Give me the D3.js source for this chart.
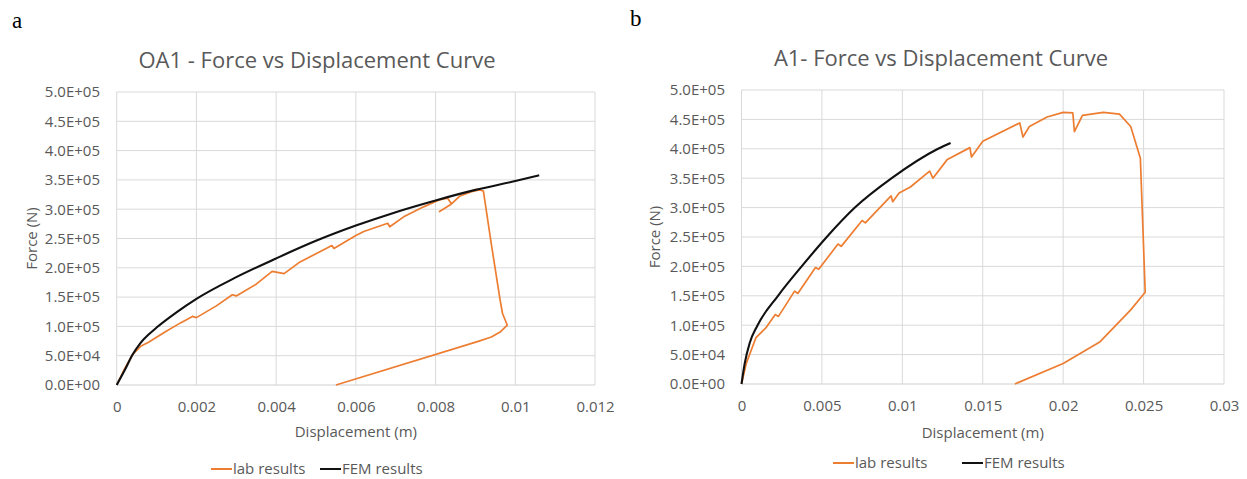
<!DOCTYPE html>
<html><head><meta charset="utf-8">
<script src="https://cdn.jsdelivr.net/npm/d3@7"></script>
<style>body{margin:0;background:#fff}svg{display:block}</style>
</head><body>
<svg id="c" width="1247" height="479"></svg>
<script>
// ---------- data ----------
const yTicks = [0,50000,100000,150000,200000,250000,300000,350000,400000,450000,500000];
const xTicksA = [0,0.002,0.004,0.006,0.008,0.01,0.012];
const xTicksB = [0,0.005,0.01,0.015,0.02,0.025,0.03];
const seriesNames = ["lab results","FEM results"];

// OA1 lab results
const labA_x = [0,0.0002,0.0004,0.0006,0.0008,0.0012,0.0016,0.0019,0.0020,0.0025,0.0029,0.0030,0.0035,0.0039,0.0042,0.0046,0.0054,0.00545,0.0060,0.0062,0.0068,0.00685,0.0072,0.0077,0.0081,0.0083,0.0084,0.0081,0.0084,0.0086,0.0089,0.0091,0.0092,0.0094,0.00962,0.00968,0.0098,0.00963,0.0094,0.00905,0.0055];
const labA_y = [0,28000,52000,66000,73000,90000,106000,117000,115000,135000,154000,152000,172000,194000,190000,210000,238000,233000,255000,262000,276000,270000,287000,304000,316000,319000,309000,296000,309000,322000,330000,333000,331000,240000,145000,122000,102000,91000,82000,74000,0];
// OA1 FEM results
const femA_x = [0,0.0002,0.0004,0.0006,0.0008,0.001,0.0015,0.002,0.003,0.004,0.005,0.006,0.007,0.008,0.009,0.01,0.0106];
const femA_y = [0,25000,52000,72000,86000,98000,124000,147000,184000,216000,246000,272000,295000,315000,333000,348000,358000];

// A1 lab results
const labB_x = [0,0.0003,0.0009,0.0015,0.0021,0.0023,0.0033,0.0035,0.0046,0.0048,0.0060,0.0062,0.0075,0.0077,0.0093,0.0094,0.0098,0.0105,0.0117,0.0119,0.0128,0.0142,0.0143,0.0150,0.0173,0.0175,0.0179,0.0190,0.0200,0.0206,0.0207,0.0212,0.0225,0.0235,0.0242,0.0248,0.0251,0.0242,0.0223,0.0200,0.0170];
const labB_y = [0,35000,79000,95000,118000,115000,158000,154000,198000,195000,238000,234000,278000,274000,320000,310000,325000,335000,362000,350000,382000,402000,386000,413000,444000,420000,438000,454000,462000,461000,429000,457000,462000,459000,438000,384000,156000,126000,72000,35000,0];
// A1 FEM results
const femB_x = [0,0.0002,0.0005,0.001,0.00227,0.00374,0.0053,0.00705,0.00934,0.01222,0.013];
const femB_y = [0,35000,69000,100000,150000,200000,250000,300000,350000,400000,410000];

// ---------- drawing ----------
const svg = d3.select("#c");
const txt = "#595959", grid = "#d9d9d9", orange = "#ED7D31", black = "#111";
const font = "'Open Sans', sans-serif";
const small = "15px";

function fmtY(v){
  const s = v.toExponential(1).split("e");
  const e = parseInt(s[1],10);
  return s[0] + "E" + (e<0?"-":"+") + String(Math.abs(e)).padStart(2,"0");
}

function panel(cfg){
  const g = svg.append("g");
  const x = d3.scaleLinear().domain([cfg.xTicks[0], cfg.xTicks[cfg.xTicks.length-1]]).range([cfg.x0, cfg.x1]);
  const y = d3.scaleLinear().domain([0,500000]).range([cfg.y0, cfg.y1]);

  g.selectAll(".hg").data(yTicks).join("line")
    .attr("x1",cfg.x0).attr("x2",cfg.x1)
    .attr("y1",d=>y(d)).attr("y2",d=>y(d))
    .attr("stroke",d=>d===0?"#cfcfcf":grid).attr("stroke-width",1);
  g.selectAll(".vg").data(cfg.xTicks).join("line")
    .attr("x1",d=>x(d)).attr("x2",d=>x(d))
    .attr("y1",cfg.y0).attr("y2",cfg.y1)
    .attr("stroke",grid).attr("stroke-width",1);

  const ya = d3.axisLeft(y).tickValues(yTicks).tickFormat(fmtY).tickSize(0).tickPadding(cfg.x0-cfg.yLabX);
  const yg = g.append("g").attr("transform",`translate(${cfg.x0},0)`).call(ya);
  const xa = d3.axisBottom(x).tickValues(cfg.xTicks).tickFormat(d=>String(+d.toFixed(4))).tickSize(0).tickPadding(cfg.xLabPad);
  const xg = g.append("g").attr("transform",`translate(0,${cfg.y0})`).call(xa);
  [yg,xg].forEach(a=>{
    a.select(".domain").remove();
    a.selectAll("text").attr("fill",txt).style("font-family",font).style("font-size",small);
  });

  const line = d3.line().x(d=>x(d[0])).y(d=>y(d[1]));
  const lab = cfg.labX.map((v,i)=>[v,cfg.labY[i]]);
  const fem = cfg.femX.map((v,i)=>[v,cfg.femY[i]]);
  g.append("path").attr("d",line(lab)).attr("fill","none").attr("stroke",orange).attr("stroke-width",1.7).attr("stroke-linejoin","round");
  g.append("path").attr("d",line.curve(d3.curveMonotoneX)(fem)).attr("fill","none").attr("stroke",black).attr("stroke-width",2.1).attr("stroke-linejoin","round");

  g.append("text").attr("x",cfg.titleX).attr("y",cfg.titleY).attr("text-anchor","middle")
    .attr("fill",txt).style("font-family",font).style("font-size","22px").text(cfg.title);
  g.append("text").attr("transform",`translate(${cfg.yTitleX},${(cfg.y0+cfg.y1)/2}) rotate(-90)`)
    .attr("text-anchor","middle").attr("fill",txt).style("font-family",font).style("font-size",small).text("Force (N)");
  g.append("text").attr("x",(cfg.x0+cfg.x1)/2).attr("y",cfg.xTitleY).attr("text-anchor","middle")
    .attr("fill",txt).style("font-family",font).style("font-size",small).text("Displacement (m)");
  g.append("text").attr("x",cfg.letterX).attr("y",cfg.letterY).attr("fill","#000")
    .style("font-family","'Liberation Serif', serif").style("font-size","23px").text(cfg.letter);

  const cols = [orange, black];
  seriesNames.forEach((n,i)=>{
    const lx = cfg.legX[i];
    g.append("line").attr("x1",lx).attr("x2",lx+21).attr("y1",cfg.legY-5).attr("y2",cfg.legY-5)
      .attr("stroke",cols[i]).attr("stroke-width",2);
    g.append("text").attr("x",lx+22).attr("y",cfg.legY).attr("fill",txt)
      .style("font-family",font).style("font-size",small).text(n);
  });
}

panel({x0:116.7,x1:595,y0:385,y1:92,xTicks:xTicksA,yLabX:100,xLabPad:16,
  labX:labA_x,labY:labA_y,femX:femA_x,femY:femA_y,
  title:"OA1 - Force vs Displacement Curve",titleX:317,titleY:68,
  yTitleX:37,xTitleY:437,letter:"a",letterX:12,letterY:28,
  legX:[211,320],legY:474});

panel({x0:741.5,x1:1224,y0:384,y1:90,xTicks:xTicksB,yLabX:725,xLabPad:16,
  labX:labB_x,labY:labB_y,femX:femB_x,femY:femB_y,
  title:"A1- Force vs Displacement Curve",titleX:941,titleY:66,
  yTitleX:660,xTitleY:438,letter:"b",letterX:630,letterY:26,
  legX:[833,962],legY:468});
</script>
</body></html>
